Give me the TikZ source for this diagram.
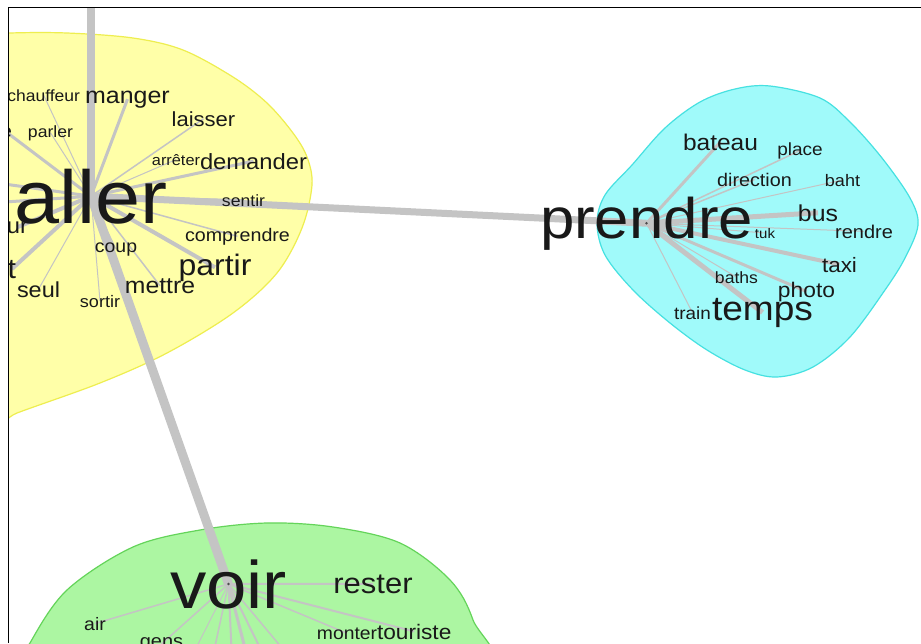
\documentclass[tikz,border=0pt]{standalone}
\usepackage{fontspec}
\setmainfont{Liberation Sans}
\pgfdeclarelayer{regions}
\pgfdeclarelayer{edges}
\pgfsetlayers{regions,edges,main}

\definecolor{yfill}{RGB}{255,255,168}
\definecolor{yline}{RGB}{238,238,80}
\definecolor{cfill}{RGB}{160,250,250}
\definecolor{cline}{RGB}{70,225,225}
\definecolor{gfill}{RGB}{172,246,162}
\definecolor{gline}{RGB}{100,212,90}
\definecolor{edgec}{RGB}{196,196,196}
\definecolor{wordc}{RGB}{25,25,25}

\newcommand{\fz}[1]{\fontsize{#1}{#1}\selectfont}

\tikzset{
  word/.style={inner sep=0pt, outer sep=0pt, anchor=base, xscale=1.08, text=wordc},
  spoke/.style={draw=edgec, line width=#1},
  spoke/.default=1,
  region/.style={line width=1.2},
  hubdot/.style={fill=black!70}
}

\begin{document}
\begin{tikzpicture}[x=1pt,y=-1pt]
\useasboundingbox (0,0) rectangle (921,643);

% ---------- words ----------
\begin{scope}
\clip (8,8) rectangle (921,643);
% aller cluster
\node[word,font=\fz{75}] (aller) at (91,223) {aller};
\node[word,anchor=base east,font=\fz{16.2}] (chauffeur) at (80,101) {chauffeur};
\node[word,font=\fz{23.1}] (manger) at (127.5,103) {manger};
\node[word,font=\fz{20.4}] (laisser) at (203.5,126) {laisser};
\node[word,font=\fz{16.3}] (parler) at (50.5,137) {parler};
\node[word,anchor=base east,font=\fz{18.5}] (fragE) at (12,137) {e};
\node[word,font=\fz{15.1}] (arreter) at (176,165) {arrêter};
\node[word,font=\fz{22}] (demander) at (253.5,169) {demander};
\node[word,font=\fz{16.3}] (sentir) at (243.5,206) {sentir};
\node[word,font=\fz{18.2}] (comprendre) at (237.5,241) {comprendre};
\node[word,font=\fz{29.6}] (partir) at (215,275) {partir};
\node[word,font=\fz{18}] (coup) at (116,252) {coup};
\node[word,font=\fz{22.9}] (mettre) at (160,293) {mettre};
\node[word,font=\fz{21.7}] (seul) at (38.5,297) {seul};
\node[word,font=\fz{16.7}] (sortir) at (100,307) {sortir};
\node[word,anchor=base east,font=\fz{22}] (fragUR) at (28,233) {ur};
\node[word,anchor=base east,font=\fz{28}] (fragT) at (16,278) {t};
% prendre cluster
\node[word,font=\fz{57.2}] (prendre) at (646.5,238) {prendre};
\node[word,font=\fz{22.7}] (bateau) at (720.5,150) {bateau};
\node[word,font=\fz{17.6}] (place) at (800,155) {place};
\node[word,font=\fz{18.3}] (direction) at (754.5,186) {direction};
\node[word,font=\fz{16.7}] (baht) at (842.5,186) {baht};
\node[word,font=\fz{23}] (bus) at (818,221) {bus};
\node[word,font=\fz{13.9}] (tuk) at (765,238) {tuk};
\node[word,font=\fz{18.5}] (rendre) at (864,238) {rendre};
\node[word,font=\fz{20.8}] (taxi) at (839.5,272) {taxi};
\node[word,font=\fz{16.3}] (baths) at (736.5,283) {baths};
\node[word,font=\fz{21.1}] (photo) at (806.5,297) {photo};
\node[word,font=\fz{17.5}] (train) at (692.5,319) {train};
\node[word,font=\fz{34.3}] (temps) at (762.5,320) {temps};
% voir cluster
\node[word,font=\fz{67.2}] (voir) at (228.5,608) {voir};
\node[word,font=\fz{28.7}] (rester) at (373,593) {rester};
\node[word,font=\fz{18}] (air) at (95,630) {air};
\node[word,font=\fz{18.5}] (gens) at (161.5,647) {gens};
\node[word,font=\fz{17.9}] (monter) at (347,639) {monter};
\node[word,anchor=base west,font=\fz{21}] (touriste) at (377,639) {touriste};
% hub dots
\fill[hubdot] (prendre.center) circle (1.3);
\fill[hubdot] (voir.center) circle (1.3);
\end{scope}

% ---------- connectors ----------
\begin{pgfonlayer}{edges}
\begin{scope}
\clip (8,8) rectangle (921,643);
\coordinate (topEnd) at (91,-5);
\coordinate (leftA) at (-10,182);
\coordinate (leftB) at (-10,203);
\coordinate (vb1) at (190,660);
\coordinate (vb2) at (212,660);
\coordinate (vb3) at (232,660);
\coordinate (vb4) at (248,660);
\coordinate (vb5) at (266,660);
\coordinate (vb6) at (292,660);
% main links
\draw[spoke=8] (aller.center) -- (topEnd);
\draw[spoke=7] (aller.center) -- (prendre.center);
\draw[spoke=9] (aller.center) -- (voir.center);
% aller spokes
\draw[spoke=1] (aller.center) -- (chauffeur.center);
\draw[spoke=1] (aller.center) -- (parler.center);
\draw[spoke=3] (aller.center) -- (fragE.center);
\draw[spoke=3] (aller.center) -- (leftA);
\draw[spoke=3] (aller.center) -- (leftB);
\draw[spoke=4] (aller.center) -- (fragUR.center);
\draw[spoke=4] (aller.center) -- (fragT.center);
\draw[spoke=1] (aller.center) -- (seul.center);
\draw[spoke=1] (aller.center) -- (sortir.center);
\draw[spoke=1] (aller.center) -- (coup.center);
\draw[spoke=1.5] (aller.center) -- (mettre.center);
\draw[spoke=4] (aller.center) -- (partir.center);
\draw[spoke=1.5] (aller.center) -- (comprendre.center);
\draw[spoke=2] (aller.center) -- (sentir.center);
\draw[spoke=3] (aller.center) -- (demander.center);
\draw[spoke=1] (aller.center) -- (arreter.center);
\draw[spoke=1.5] (aller.center) -- (laisser.center);
\draw[spoke=3] (aller.center) -- (manger.center);
% prendre spokes
\draw[spoke=3] (prendre.center) -- (bateau.center);
\draw[spoke=1.5] (prendre.center) -- (place.center);
\draw[spoke=1.5] (prendre.center) -- (direction.center);
\draw[spoke=1] (prendre.center) -- (baht.center);
\draw[spoke=5] (prendre.center) -- (bus.center);
\draw[spoke=1] (prendre.center) -- (rendre.center);
\draw[spoke=1] (prendre.center) -- (tuk.center);
\draw[spoke=4] (prendre.center) -- (taxi.center);
\draw[spoke=3] (prendre.center) -- (photo.center);
\draw[spoke=1] (prendre.center) -- (baths.center);
\draw[spoke=5] (prendre.center) -- (temps.center);
\draw[spoke=1] (prendre.center) -- (train.center);
% voir spokes
\draw[spoke=2] (voir.center) -- (rester.center);
\draw[spoke=1.5] (voir.center) -- (air.center);
\draw[spoke=1.5] (voir.center) -- (gens.center);
\draw[spoke=1.5] (voir.center) -- (monter.center);
\draw[spoke=2] (voir.center) -- (touriste.center);
\draw[spoke=1] (voir.center) -- (vb1);
\draw[spoke=1.5] (voir.center) -- (vb2);
\draw[spoke=2] (voir.center) -- (vb3);
\draw[spoke=3] (voir.center) -- (vb4);
\draw[spoke=2] (voir.center) -- (vb5);
\draw[spoke=1.5] (voir.center) -- (vb6);
\end{scope}
\end{pgfonlayer}

% ---------- cluster regions ----------
\begin{pgfonlayer}{regions}
\fill[white] (0,0) rectangle (921,643);
\begin{scope}
\clip (8,8) rectangle (921,643);
\filldraw[region,fill=yfill,draw=yline] plot[smooth cycle,tension=0.55] coordinates {
  (-30,36) (10,33) (67,33) (133,38) (183,50) (233,77) (267,103) (293,133)
  (307,157) (312,185) (302,228) (277,273) (233,313) (167,353) (100,383)
  (17,413) (-30,432) (-60,230)};
\filldraw[region,fill=cfill,draw=cline] plot[smooth cycle,tension=0.55] coordinates {
  (770,86) (820,98) (850,122) (882,158) (910,198) (918,225) (905,258)
  (885,290) (850,337) (813,367) (777,377) (745,370) (707,350) (670,323)
  (633,290) (605,255) (597,223) (605,195) (632,165) (665,128) (700,102) (735,89)};
\filldraw[region,fill=gfill,draw=gline] plot[smooth cycle,tension=0.55] coordinates {
  (15,680) (30,643) (67,590) (133,547) (200,530) (267,523) (333,527)
  (400,543) (450,580) (473,620) (485,680) (250,700)};
\end{scope}
\end{pgfonlayer}

% ---------- frame ----------
\draw[line width=1.5] (8.5,643) -- (8.5,7.5) -- (921,7.5);
\end{tikzpicture}
\end{document}
